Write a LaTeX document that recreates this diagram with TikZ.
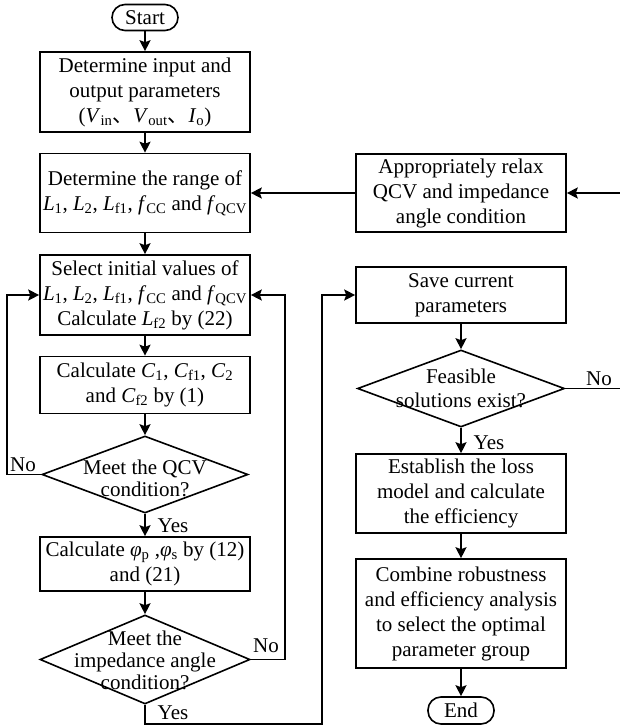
\documentclass[tikz,border=0pt]{standalone}
\usepackage{fontspec}
\setmainfont{Liberation Serif}
\newfontfamily\cjk{Noto Sans CJK SC}
\usetikzlibrary{shapes.geometric,arrows.meta}
\newcommand{\ivar}[2]{\textit{#1}\textsubscript{#2}}
\begin{document}
\begin{tikzpicture}[x=1pt,y=-1pt,
  font=\fontsize{21}{25}\selectfont,
  line width=1.6pt,
  box/.style={draw,rectangle,align=center,inner sep=0pt,minimum width=210pt},
  term/.style={draw,rounded corners=13pt,minimum width=66pt,minimum height=26pt,inner sep=0pt},
  dia/.style={draw,diamond,inner sep=0pt},
  dtext/.style={align=center,inner sep=0pt,font=\fontsize{21}{22}\selectfont},
  arr/.style={-{Stealth[length=11pt,width=11pt,inset=2pt]}},
  lbl/.style={inner sep=0pt}]
\useasboundingbox (0,0) rectangle (620,728);

% left column
\node[term] (start) at (145,17.5) {Start};
\node[box,minimum height=80pt] (b1) at (145,92) {Determine input and\\output parameters\\(\ivar{V}{in}{\cjk 、}\ivar{V}{out}{\cjk 、}\ivar{I}{o})};
\node[box,minimum height=79pt] (b2) at (145,193) {Determine the range of\\\ivar{L}{1}, \ivar{L}{2}, \ivar{L}{f1}, \ivar{f}{CC} and \ivar{f}{QCV}};
\node[box,minimum height=80pt] (b3) at (145,295) {Select initial values of\\\ivar{L}{1}, \ivar{L}{2}, \ivar{L}{f1}, \ivar{f}{CC} and \ivar{f}{QCV}\\Calculate \ivar{L}{f2} by (22)};
\node[box,minimum height=57pt] (b4) at (145,385) {Calculate \ivar{C}{1}, \ivar{C}{f1}, \ivar{C}{2}\\and \ivar{C}{f2} by (1)};
\node[dia,minimum width=206pt,minimum height=77pt] (d1) at (145,474.5) {};
\node[dtext] (d1t) at (145,478) {Meet the QCV\\condition?};
\node[box,minimum height=54pt] (b5) at (145,564) {Calculate \ivar{φ}{p} ,\ivar{φ}{s} by (12)\\and (21)};
\node[dia,minimum width=210pt,minimum height=89pt] (d2) at (145,659.5) {};
\node[dtext] (d2t) at (145,660) {Meet the\\impedance angle\\condition?};

% right column
\node[box,minimum height=78pt] (relax) at (461,193) {Appropriately relax\\QCV and impedance\\angle condition};
\node[box,minimum height=56pt] (save) at (461,295) {Save current\\parameters};
\node[dia,minimum width=207pt,minimum height=77pt] (d3) at (461,388.5) {};
\node[dtext,font=\fontsize{21}{24}\selectfont] (d3t) at (461,388) {Feasible\\solutions exist?};
\node[box,minimum height=79pt] (est) at (461,493.5) {Establish the loss\\model and calculate\\the efficiency};
\node[box,minimum height=109pt] (comb) at (461,613.5) {Combine robustness\\and efficiency analysis\\to select the optimal\\parameter group};
\node[term,minimum height=27pt] (end) at (461,710.5) {End};

% labels
\node[lbl] (no1) at (23,465) {No};
\node[lbl] (yes1) at (173,526) {Yes};
\node[lbl] (no2) at (266,646) {No};
\node[lbl] (yes2) at (173,713) {Yes};
\node[lbl] (no3) at (599,379) {No};
\node[lbl] (yes3) at (489,443) {Yes};

% connectors
\draw[arr] (start) -- (b1);
\draw[arr] (b1) -- (b2);
\draw[arr] (b2) -- (b3);
\draw[arr] (b3) -- (b4);
\draw[arr] (b4) -- (d1);
\draw[arr] (d1) -- (b5);
\draw[arr] (b5) -- (d2);
\draw[arr] (d1.west) -- ++(-34,0) |- (b3.west);
\draw[arr] (d2.east) -- ++(34,0) |- (b3.east);
\coordinate (ybot) at (322,724);
\draw[arr] (d2.south) |- (ybot) |- (save.west);
\draw[arr] (relax.west) -- (b2.east);
\coordinate (redge) at (624,388.5);
\draw[arr] (d3.east) -- (redge) |- (relax.east);
\draw[arr] (save) -- (d3);
\draw[arr] (d3) -- (est);
\draw[arr] (est) -- (comb);
\draw[arr] (comb) -- (end);
\end{tikzpicture}
\end{document}
